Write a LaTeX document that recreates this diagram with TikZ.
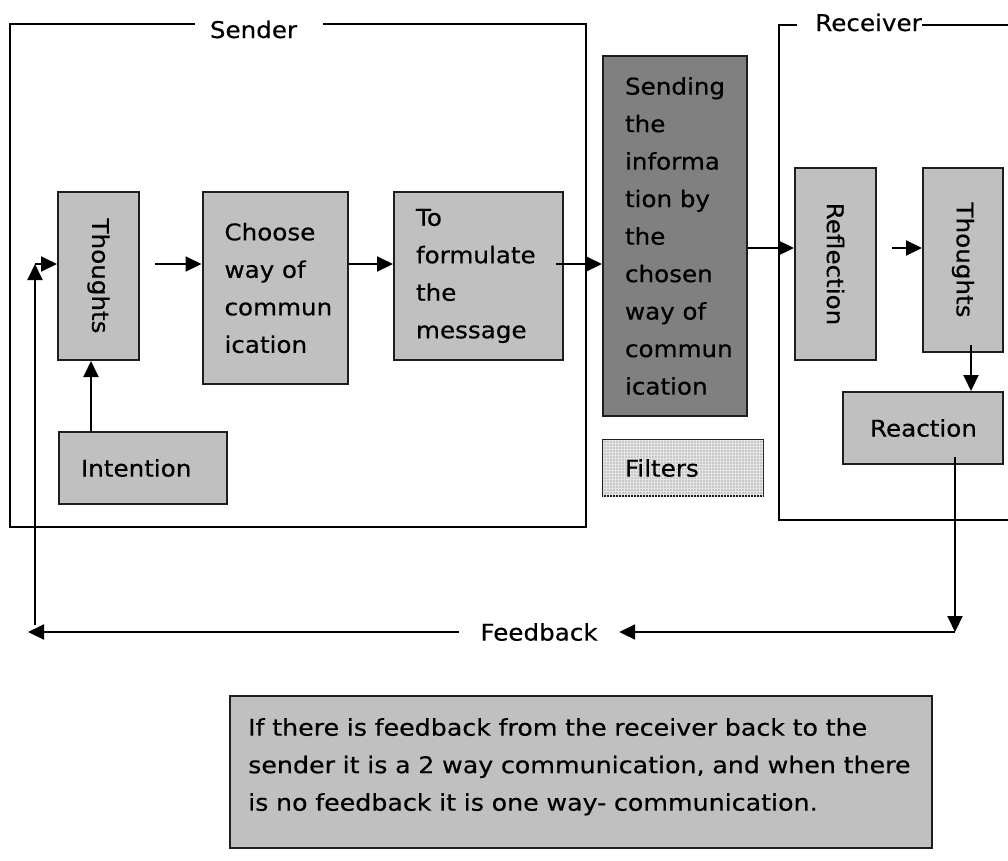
\documentclass[tikz,border=0pt]{standalone}
\usepackage{fontspec}
\setmainfont{DejaVu Sans}[FakeStretch=1.07,FakeBold=0.4]
\newfontfamily\notefont{DejaVu Sans}[FakeStretch=1.1,FakeBold=0.4]
\usetikzlibrary{arrows.meta,patterns}
\definecolor{boxgray}{RGB}{192,192,192}
\definecolor{darkbox}{RGB}{128,128,128}
\definecolor{filtgray}{RGB}{200,200,200}
\definecolor{filtline}{RGB}{228,228,228}
\definecolor{edge}{RGB}{30,30,30}
\newcommand\dtxt{\fontsize{23}{37.5}\selectfont}
\begin{document}
\begin{tikzpicture}[x=1pt,y=-1pt,
  box/.style={draw=edge, line width=2pt, fill=boxgray, inner xsep=22pt, inner ysep=0pt, align=left, font=\dtxt},
  rbox/.style={draw=edge, line width=2pt, fill=boxgray, inner sep=0pt},
  rtext/.style={rotate=-90, font=\dtxt, inner sep=0pt},
  arr/.style={-{Triangle[length=16pt,width=15pt]}, line width=2pt},
  frame/.style={line width=2.2pt},
  lbl/.style={font=\dtxt, inner sep=0pt}]
\useasboundingbox (0,0) rectangle (1008,860);

% frames
\node[lbl, anchor=base] (sender) at (253.5,38) {Sender};
\draw[frame] (195,24) -- (10,24) -- (10,527) -- (586,527) -- (586,24) -- (323,24);
\node[lbl, anchor=base] (receiver) at (868.5,31) {Receiver};
\draw[frame] (797,25) -- (779,25) -- (779,520) -- (1008,520);
\draw[frame] (receiver.east |- 0,25) -- (1008,25);

% sender boxes
\node[rbox, minimum width=81, minimum height=168] (th1) at (98.5,276) {};
\node[rtext] at (th1.center) {Thoughts};
\node[box, text width=101, minimum height=192] (choose) at (275,288) {Choose\\way of\\commun\\ication};
\node[box, text width=125, minimum height=168] (form) at (478.5,276) {To\\formulate\\the\\message};
\node[box, text width=124, minimum height=72] (intent) at (143,468) {Intention};

% channel
\node[box, fill=darkbox, text width=100, minimum height=360] (send) at (675,236) {Sending\\the\\informa\\tion by\\the\\chosen\\way of\\commun\\ication};
\node[box, fill=filtgray, postaction={pattern=grid, pattern color=filtline}, text width=116, minimum height=56] (filt) at (683,468) {Filters};

% receiver boxes
\node[rbox, minimum width=81, minimum height=192] (refl) at (835.5,264) {};
\node[rtext] at (refl.center) {Reflection};
\node[rbox, minimum width=80, minimum height=184] (th2) at (963,260) {};
\node[rtext] at (th2.center) {Thoughts};
\node[box, inner xsep=27pt, text width=106, minimum height=72] (react) at (923,428) {Reaction};

% note
\node[rbox, minimum width=702, minimum height=152] (note) at (581,772) {};
\node[lbl, font=\notefont\dtxt, anchor=north west, align=left, text width=740] (notetxt) at (248,718) {If there is feedback from the receiver back to the\\sender it is a 2 way communication, and when there\\is no feedback it is one way- communication.};

% feedback label
\node[lbl, minimum width=160] (fb) at (539,632) {Feedback};

% helper coordinates
\coordinate (r1) at (0,264);
\coordinate (r2) at (0,248);
\coordinate (c91) at (91,0);
\coordinate (c971) at (971,0);
\coordinate (c955) at (955,0);
\coordinate (fbR) at (955,632);
\coordinate (fbL) at (28,632);
\coordinate (fbUp) at (35,625);
\coordinate (c35) at (35,264);
\coordinate (t1out) at ([xshift=15pt]th1.east);
\coordinate (formout) at ([xshift=-8pt]form.east);
\coordinate (reflout) at ([xshift=15pt]refl.east);
\coordinate (th2out) at ([yshift=8pt]th2.south);
\coordinate (reactout) at ([yshift=8pt]react.south);

% connectors
\draw[arr] (intent.north -| c91) -- (th1.south -| c91);
\draw[arr] (t1out |- r1) -- (choose.west |- r1);
\draw[arr] (choose.east |- r1) -- (form.west |- r1);
\draw[arr] (formout |- r1) -- (send.west |- r1);
\draw[arr] (send.east |- r2) -- (refl.west |- r2);
\draw[arr] (reflout |- r2) -- (th2.west |- r2);
\draw[arr] (th2out -| c971) -- (react.north -| c971);
\draw[arr] (reactout -| c955) -- (fbR);
\draw[arr] (fbR) -- (fb.east);
\draw[arr] (fb.west) -- (fbL);
\draw[arr] (fbUp) -- (c35);
\draw[arr] (c35) -- (th1.west |- r1);
\end{tikzpicture}
\end{document}
